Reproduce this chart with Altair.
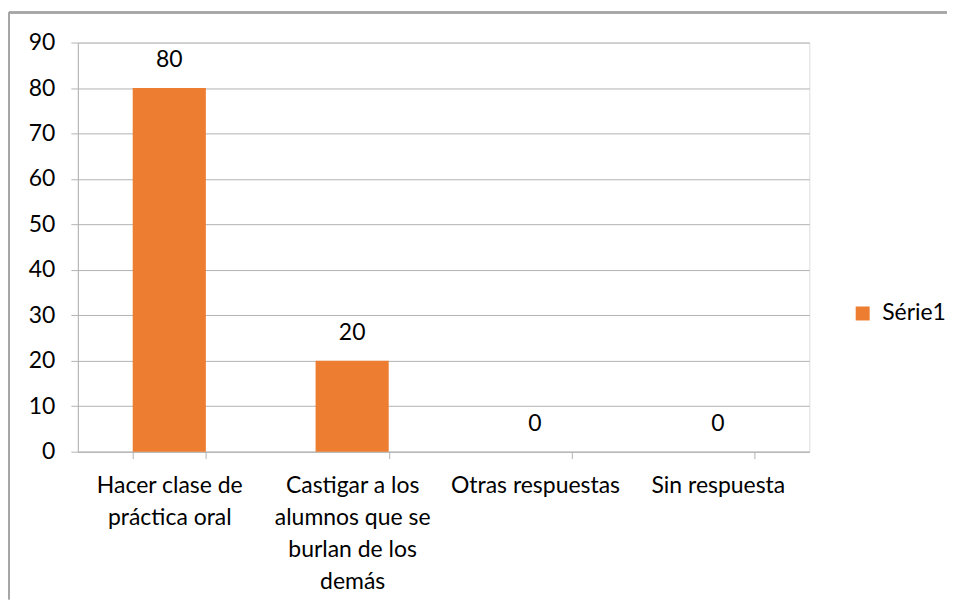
import altair as alt
import pandas as pd

categories = ["Hacer clase de|práctica oral",
              "Castigar a los|alumnos que se|burlan de los|demás",
              "Otras respuestas",
              "Sin respuesta"]
values = [80, 20, 0, 0]
series = ["Série1"] * 4
y_ticks = [0, 10, 20, 30, 40, 50, 60, 70, 80, 90]

df = pd.DataFrame({"cat": categories, "val": values, "serie": series})

FONT = "Lato"
ORANGE = "#ED7D31"
GRID = "#b3b3b3"
FS = 23

x_enc = alt.X("cat:N", sort=categories, title=None,
              scale=alt.Scale(paddingInner=0.6, paddingOuter=0.3),
              axis=alt.Axis(labelExpr="split(datum.label, '|')", labelAngle=0,
                            labelFontSize=FS, labelFont=FONT, labelColor="#000000",
                            labelLineHeight=32, labelPadding=16, tickBand="extent",
                            tickSize=7, tickColor=GRID, domainColor=GRID,
                            labelBaseline="top", grid=False))
y_enc = alt.Y("val:Q", title=None,
              scale=alt.Scale(domain=[0, 90]),
              axis=alt.Axis(values=y_ticks, labelFontSize=FS, labelFont=FONT,
                            labelColor="#000000", tickSize=7, tickColor=GRID,
                            domainColor=GRID, gridColor=GRID, labelPadding=16))

bars = alt.Chart(df).mark_bar().encode(
    x=x_enc, y=y_enc,
    color=alt.Color("serie:N", scale=alt.Scale(range=[ORANGE]),
                    legend=alt.Legend(title=None, orient="none", legendX=775, legendY=260,
                                      symbolType="square", symbolSize=196,
                                      symbolStrokeWidth=0, labelFontSize=FS,
                                      labelFont=FONT, labelColor="#000000",
                                      labelOffset=8))
)

labels = alt.Chart(df).mark_text(fontSize=FS, font=FONT, color="#000000",
                                 baseline="middle", dy=-28).encode(
    x=alt.X("cat:N", sort=categories), y="val:Q", text="val:Q")

left_edge = alt.Chart(df).mark_rule(stroke="#a6a6a6", strokeWidth=2, clip=False).encode(
    x=alt.value(-69), y=alt.value(-30), y2=alt.value(558))
top_edge = alt.Chart(df).mark_rule(stroke="#a6a6a6", strokeWidth=2, clip=False).encode(
    x=alt.value(-69), x2=alt.value(871), y=alt.value(-30))

chart = alt.layer(left_edge, top_edge, bars, labels).properties(
    width=733, height=410,
    padding={"left": 0, "top": 3, "right": 0, "bottom": 0},
).configure_view(stroke=None).configure(font=FONT)

chart.save("out.html", embed_options={"renderer": "svg", "actions": False})
